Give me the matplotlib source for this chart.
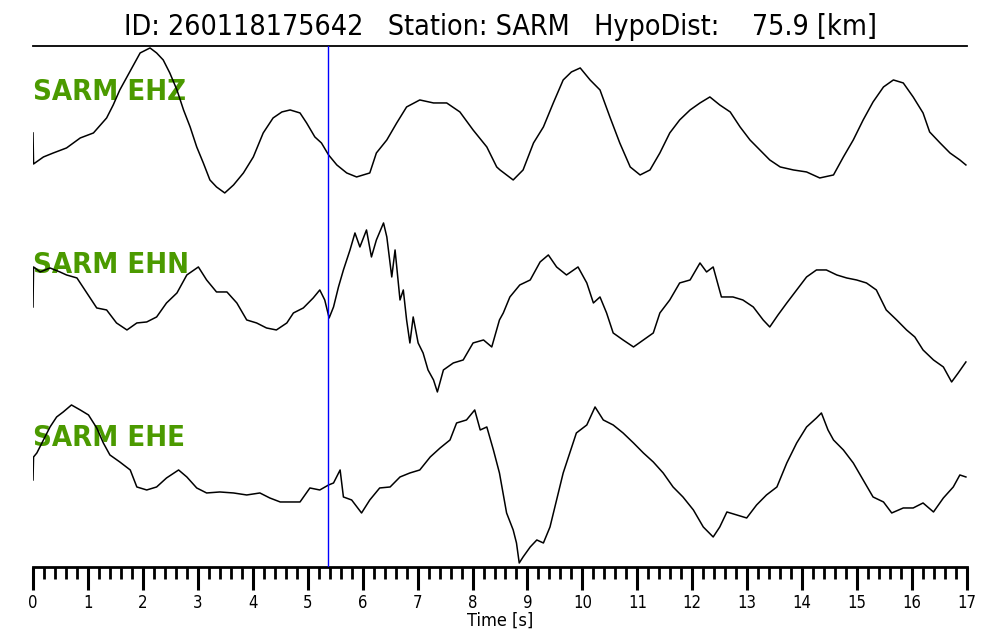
import numpy as np
import matplotlib
matplotlib.use('Agg')
import matplotlib.pyplot as plt
from matplotlib import font_manager

# 字体：原图文字偏窄，优先用窄体
names = {(f.name, f.stretch) for f in font_manager.fontManager.ttflist}
if ('DejaVu Sans', 'condensed') in names or ('DejaVu Sans', 'semi-condensed') in names:
    FAMILY, STRETCH = 'DejaVu Sans', 'condensed'
elif any(n == 'Liberation Sans Narrow' for n, s in names):
    FAMILY, STRETCH = 'Liberation Sans Narrow', 'normal'
else:
    FAMILY, STRETCH = 'DejaVu Sans', 'normal'
plt.rcParams['font.family'] = [FAMILY, 'DejaVu Sans']
plt.rcParams['font.stretch'] = STRETCH

# ---------------- 数据 ----------------
title_text = 'ID: 260118175642   Station: SARM   HypoDist:    75.9 [km]'
channels = ['SARM EHZ', 'SARM EHN', 'SARM EHE']
pick_time = 5.37

t_ehz = [0.00, 0.01, 0.19, 0.37, 0.61, 0.86, 1.10, 1.34, 1.46, 1.58,
         1.71, 1.83, 1.95, 2.13, 2.25, 2.37, 2.49, 2.62, 2.74, 2.86,
         2.98, 3.10, 3.22, 3.34, 3.49, 3.65, 3.83, 4.01, 4.19, 4.37,
         4.53, 4.68, 4.86, 4.98, 5.13, 5.25, 5.38, 5.53, 5.71, 5.89,
         6.13, 6.25, 6.44, 6.62, 6.80, 7.04, 7.29, 7.53, 7.77, 8.01,
         8.26, 8.44, 8.50, 8.74, 8.92, 9.11, 9.29, 9.47, 9.65, 9.80,
         9.96, 10.14, 10.32, 10.50, 10.68, 10.87, 11.05, 11.23, 11.41, 11.59,
         11.77, 11.96, 12.14, 12.32, 12.50, 12.69, 12.87, 13.05, 13.23, 13.41,
         13.60, 13.84, 14.08, 14.32, 14.57, 14.75, 14.93, 15.11, 15.29, 15.48,
         15.66, 15.84, 16.02, 16.20, 16.32, 16.51, 16.69, 16.87, 16.98]
a_ehz = [-13, -44, -37, -33, -28, -18, -13, 2, 15, 30,
         43, 55, 67, 72, 67, 60, 47, 30, 10, -7,
         -27, -43, -60, -67, -73, -65, -53, -37, -13, 2,
         8, 10, 7, -3, -17, -23, -35, -45, -53, -57,
         -53, -33, -20, -3, 13, 20, 17, 17, 8, -10,
         -27, -47, -50, -60, -50, -23, -7, 17, 40, 48,
         52, 40, 30, 3, -23, -47, -55, -50, -33, -13,
         0, 10, 17, 23, 15, 8, -7, -20, -30, -40,
         -47, -50, -52, -58, -55, -37, -20, 0, 18, 33,
         40, 37, 23, 7, -12, -23, -33, -40, -45]

t_ehn = [0.00, 0.01, 0.13, 0.31, 0.49, 0.61, 0.80, 0.98, 1.16, 1.34,
         1.52, 1.71, 1.89, 2.07, 2.25, 2.43, 2.62, 2.80, 3.01, 3.16,
         3.34, 3.53, 3.71, 3.89, 4.07, 4.25, 4.43, 4.62, 4.74, 4.92,
         5.10, 5.22, 5.31, 5.39, 5.47, 5.56, 5.65, 5.77, 5.86, 5.95,
         6.07, 6.16, 6.25, 6.38, 6.44, 6.53, 6.59, 6.68, 6.74, 6.80,
         6.86, 6.92, 7.01, 7.10, 7.19, 7.29, 7.36, 7.47, 7.65, 7.83,
         8.01, 8.20, 8.35, 8.49, 8.56, 8.68, 8.86, 9.05, 9.23, 9.38,
         9.53, 9.71, 9.92, 10.08, 10.20, 10.32, 10.44, 10.56, 10.74, 10.93,
         11.11, 11.29, 11.41, 11.59, 11.77, 11.96, 12.14, 12.26, 12.38, 12.53,
         12.74, 12.92, 13.11, 13.29, 13.41, 13.56, 13.72, 13.90, 14.08, 14.26,
         14.44, 14.63, 14.81, 14.99, 15.17, 15.35, 15.53, 15.72, 15.90, 16.05,
         16.20, 16.39, 16.57, 16.72, 16.84, 16.98]
a_ehn = [-14, 26, 21, 25, 21, 18, 15, 0, -15, -17,
         -30, -37, -30, -29, -24, -10, 0, 18, 26, 13,
         1, 1, -10, -27, -30, -35, -37, -30, -20, -15,
         -5, 3, -7, -25, -14, 6, 23, 43, 60, 46,
         63, 36, 53, 70, 56, 16, 43, -7, 3, -27,
         -50, -24, -50, -60, -77, -87, -99, -77, -70, -67,
         -50, -47, -54, -27, -20, -4, 8, 13, 31, 38,
         26, 18, 26, 10, -10, -4, -20, -40, -47, -54,
         -47, -40, -20, -7, 10, 13, 30, 21, 26, -4,
         -4, -7, -14, -27, -34, -22, -10, 3, 16, 23,
         23, 18, 15, 13, 10, 3, -17, -27, -37, -44,
         -57, -67, -74, -89, -80, -69]

t_ehe = [0.00, 0.01, 0.07, 0.19, 0.31, 0.43, 0.55, 0.70, 0.86, 1.01,
         1.16, 1.28, 1.40, 1.58, 1.77, 1.89, 2.07, 2.25, 2.43, 2.65,
         2.80, 2.98, 3.16, 3.40, 3.65, 3.89, 4.13, 4.31, 4.50, 4.68,
         4.86, 5.04, 5.22, 5.38, 5.47, 5.59, 5.65, 5.80, 5.98, 6.13,
         6.31, 6.50, 6.68, 6.86, 7.04, 7.23, 7.41, 7.59, 7.71, 7.89,
         8.04, 8.14, 8.26, 8.38, 8.49, 8.62, 8.74, 8.80, 8.85, 8.92,
         9.05, 9.17, 9.29, 9.41, 9.53, 9.65, 9.77, 9.89, 10.08, 10.23,
         10.38, 10.56, 10.74, 10.93, 11.11, 11.29, 11.47, 11.65, 11.83, 12.02,
         12.20, 12.38, 12.50, 12.63, 12.81, 12.99, 13.17, 13.35, 13.54, 13.72,
         13.90, 14.08, 14.26, 14.35, 14.47, 14.57, 14.75, 14.93, 15.11, 15.29,
         15.48, 15.63, 15.84, 16.02, 16.20, 16.39, 16.57, 16.75, 16.87, 16.98]
a_ehe = [-14, 9, 13, 26, 39, 49, 54, 61, 56, 51,
         38, 23, 11, 4, -4, -21, -24, -21, -12, -4,
         -11, -22, -27, -26, -27, -29, -27, -32, -36, -36,
         -36, -22, -24, -19, -17, -4, -31, -34, -47, -34,
         -22, -21, -11, -7, -4, 9, 18, 26, 43, 46,
         56, 36, 39, 16, -7, -47, -64, -77, -97, -91,
         -81, -74, -77, -61, -34, -7, 13, 33, 41, 59,
         46, 41, 33, 23, 13, 4, -7, -21, -31, -44,
         -61, -71, -61, -46, -49, -52, -39, -29, -21, 3,
         23, 39, 48, 53, 36, 26, 16, 3, -14, -31,
         -36, -47, -42, -42, -37, -46, -32, -21, -9, -11]

traces = [(t_ehz, a_ehz), (t_ehn, a_ehn), (t_ehe, a_ehe)]

# ---------------- 绘图 ----------------
spacing = 173
fig = plt.figure(figsize=(10, 6.4), dpi=100)
ax = fig.add_axes([0.033, 0.1141, 0.934, 0.8141])

for i, (t, a) in enumerate(traces):
    off = -i * spacing
    ax.plot(t, np.array(a) + off, color='black', linewidth=1.1, zorder=3)
    ax.text(0, off + 28, channels[i], color='#4b9a00', fontsize=21, fontweight='bold',
            ha='left', va='center', zorder=1)

ax.axvline(pick_time, color='blue', linewidth=1.0, zorder=4)

ax.set_xlim(0, 17)
ax.set_ylim(-447, 74)
ax.set_xticks(np.arange(0, 18, 1))
ax.set_xticks(np.arange(0, 17.01, 0.2), minor=True)
ax.set_yticks([])
ax.tick_params(axis='x', which='major', direction='out', length=16.5, width=2.2,
               labelsize=12, pad=3)
ax.tick_params(axis='x', which='minor', direction='out', length=8.5, width=2.0)
for s in ['left', 'right']:
    ax.spines[s].set_visible(False)
ax.spines['bottom'].set_linewidth(2.0)
ax.spines['top'].set_linewidth(1.3)

ax.set_xlabel('Time [s]', fontsize=13, labelpad=0)
fig.text(0.5, 0.958, title_text, ha='center', va='center', fontsize=20.5)

fig.savefig('out.png', dpi=100)
